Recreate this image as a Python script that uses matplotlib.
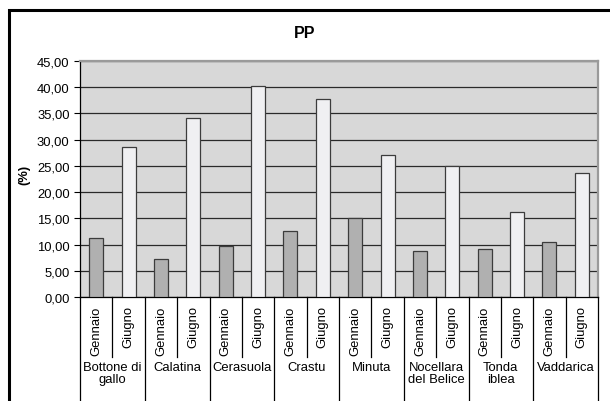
import matplotlib
matplotlib.use("Agg")
import matplotlib.pyplot as plt
from matplotlib.patches import Rectangle
from matplotlib.transforms import blended_transform_factory
import numpy as np

plt.rcParams['font.family'] = ['Liberation Sans', 'DejaVu Sans']

# Cultivars and sampling months
cultivars = ["Bottone di\ngallo", "Calatina", "Cerasuola", "Crastu", "Minuta",
             "Nocellara\ndel Belice", "Tonda\niblea", "Vaddarica"]
months = ["Gennaio", "Giugno"]

# PP (%) per cultivar
gennaio = [11.3, 7.2, 9.8, 12.6, 15.0, 8.75, 9.2, 10.4]
giugno = [28.6, 34.2, 40.2, 37.7, 27.1, 25.0, 16.2, 23.7]

y_ticks = [0, 5, 10, 15, 20, 25, 30, 35, 40, 45]
y_max = 45
title = "PP"
y_label = "(%)"

FS = 9.4
W, H = 610, 402
fig = plt.figure(figsize=(W / 100, H / 100), dpi=100)
fig.patch.set_facecolor("white")

ax = fig.add_axes([80 / W, (H - 298) / H, (598 - 80) / W, (298 - 62) / H])
ax.set_facecolor("#d8d8d8")

n = len(cultivars)
pos_gen = np.arange(n) * 2
pos_giu = np.arange(n) * 2 + 1
bw = 0.43
ax.bar(pos_gen, gennaio, width=bw, color="#b0b0b0", edgecolor="#3c3c3c",
       linewidth=0.9, zorder=3)
ax.bar(pos_giu, giugno, width=bw, color="#f0f0f2", edgecolor="#3c3c3c",
       linewidth=0.9, zorder=3)

ax.set_xlim(-0.5, 2 * n - 0.5)
ax.set_ylim(0, y_max)
ax.set_yticks(y_ticks)
ax.set_yticklabels([f"{v:.2f}".replace(".", ",") for v in y_ticks], fontsize=FS)
ax.yaxis.grid(True, color="#2a2a2a", linewidth=0.9, zorder=1)
ax.set_axisbelow(True)
ax.tick_params(axis="y", length=4, width=0.8, pad=3.5, color="black")

# month labels under each bar
ax.set_xticks(np.arange(2 * n))
ax.set_xticklabels(months * n, rotation=90, fontsize=FS, va="top", ha="center")
ax.tick_params(axis="x", length=0, pad=6)

for side in ("top", "right"):
    ax.spines[side].set_color("#9a9a9a")
    ax.spines[side].set_linewidth(1.6)
for side in ("left", "bottom"):
    ax.spines[side].set_color("black")
    ax.spines[side].set_linewidth(0.9)

# category separators below the axis
trans = blended_transform_factory(ax.transData, ax.transAxes)
for k in range(2 * n + 1):
    xb = k - 0.5
    y_end = -0.255 if k % 2 == 1 else -0.5
    ax.plot([xb, xb], [0, y_end], color="black", linewidth=0.9,
            transform=trans, clip_on=False, zorder=4)

# cultivar names
for g, name in enumerate(cultivars):
    ax.text(2 * g + 0.5, -0.27, name, transform=trans, ha="center", va="top",
            fontsize=FS, linespacing=1.05)

ax.set_ylabel(y_label, fontsize=FS, fontweight="bold")
ax.yaxis.set_label_coords(-50 / 518, 0.52)

fig.text(305 / W, 1 - 34 / H, title, ha="center", va="center",
         fontsize=11.5, fontweight="bold")

# chart frame
fig.patches.append(Rectangle((8.5 / W, -0.2), 1.2, 1.2 - 10.5 / H,
                             transform=fig.transFigure, fill=False,
                             edgecolor="black", linewidth=2.2, zorder=10))

fig.savefig("out.png", dpi=100)
